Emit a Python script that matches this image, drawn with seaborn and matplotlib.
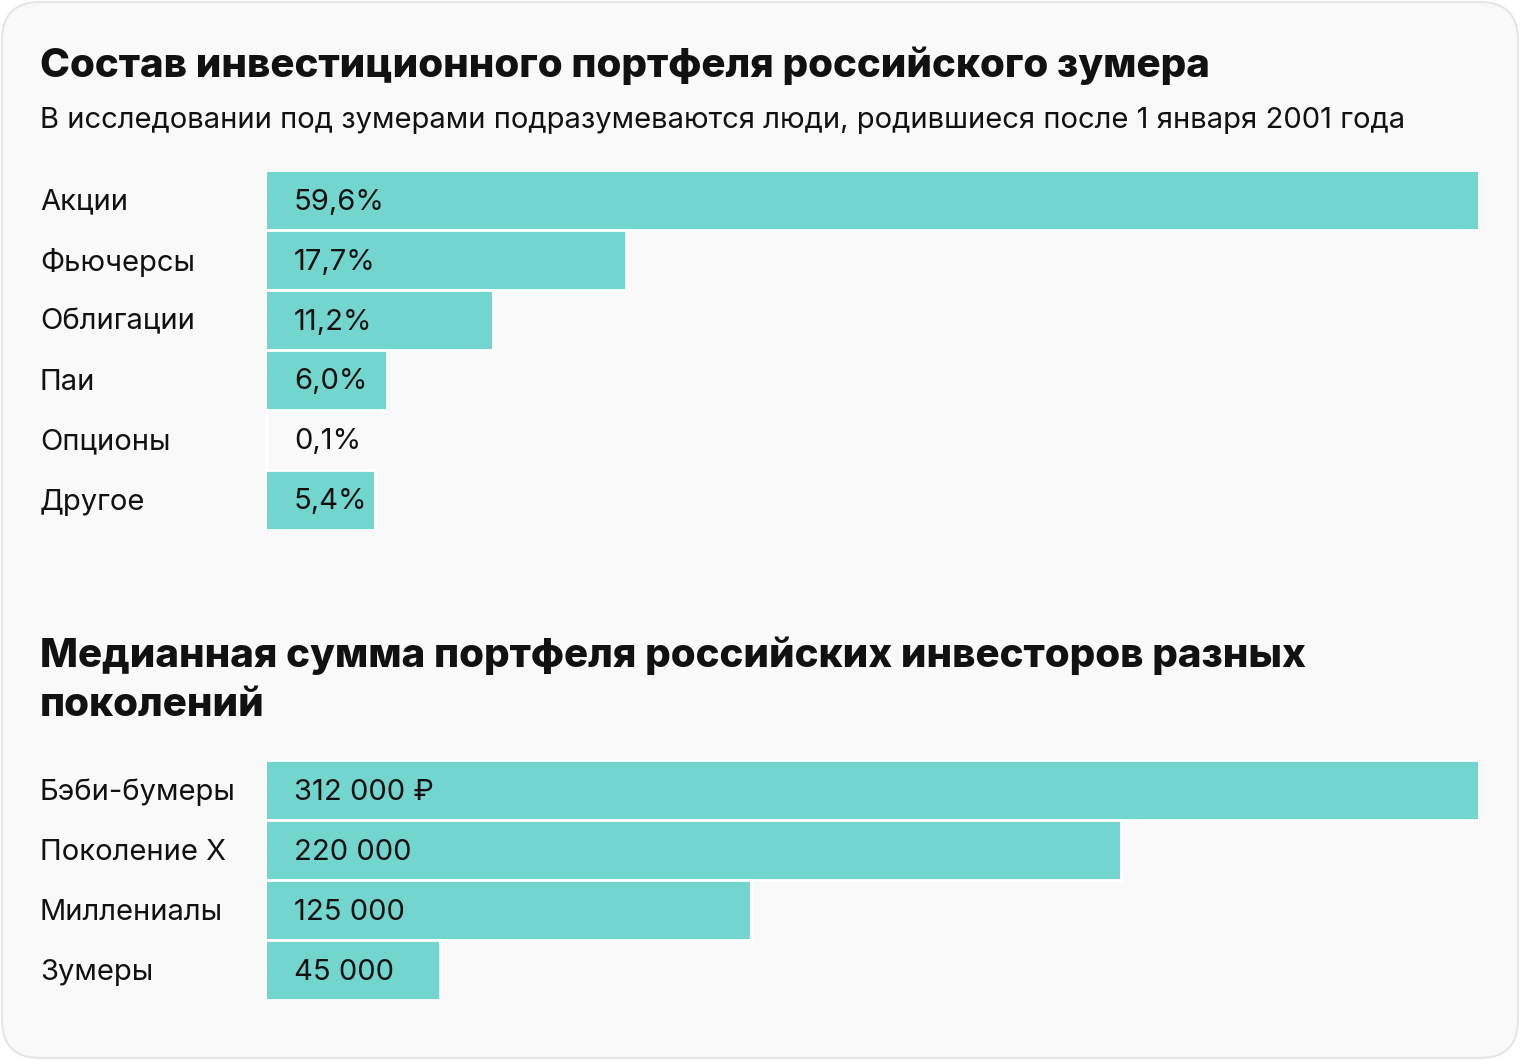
import matplotlib.pyplot as plt
import seaborn as sns
import pandas as pd
from matplotlib.patches import FancyBboxPatch

plt.switch_backend('Agg')
sns.set_theme(style="white")
plt.rcParams['font.family'] = ['Inter', 'DejaVu Sans']

# Data
assets = ['Акции', 'Фьючерсы', 'Облигации', 'Паи', 'Опционы', 'Другое']
asset_share = [59.6, 17.7, 11.2, 6.0, 0.1, 5.4]
asset_labels = ['59,6%', '17,7%', '11,2%', '6,0%', '0,1%', '5,4%']

generations = ['Бэби-бумеры', 'Поколение X', 'Миллениалы', 'Зумеры']
median_sum = [312000, 220000, 125000, 45000]
sum_labels = ['312 000 ₽', '220 000', '125 000', '45 000']

W, H = 1520, 1060
BAR = '#72d6cf'
BG = '#f9f9f9'

fig = plt.figure(figsize=(W / 100, H / 100), dpi=100)
fig.patch.set_facecolor('white')
fig.patches.append(FancyBboxPatch((2 / W, 2 / H), (W - 4) / W, (H - 4) / H,
                                  boxstyle="round,pad=0,rounding_size=0.025",
                                  transform=fig.transFigure, facecolor=BG,
                                  edgecolor='#e6e6e6', linewidth=1.5,
                                  mutation_aspect=W / H, zorder=-10))


def px_axes(x0, y0, x1, y1):
    # pixel box (top-left origin) -> figure axes
    return fig.add_axes([x0 / W, 1 - y1 / H, (x1 - x0) / W, (y1 - y0) / H])


def bar_panel(ax, cats, vals, labels):
    df = pd.DataFrame({'cat': cats, 'val': vals})
    sns.barplot(data=df, y='cat', x='val', orient='h', color=BAR, width=1.0,
                saturation=1, edgecolor='white', linewidth=2, ax=ax)
    ax.set_xlim(0, max(vals))
    ax.set_ylim(len(cats) - 0.5, -0.5)
    ax.set_facecolor('none')
    ax.axis('off')
    for i, (c, lab) in enumerate(zip(cats, labels)):
        ax.annotate(lab, xy=(0, i), xycoords=('axes fraction', 'data'),
                    xytext=(29, -2), textcoords='offset pixels',
                    va='center', ha='left', fontsize=21, color='#111111')
        ax.annotate(c, xy=(0, i), xycoords=('axes fraction', 'data'),
                    xytext=(-225, -2), textcoords='offset pixels',
                    va='center', ha='left', fontsize=21, color='#111111',
                    annotation_clip=False)


fig.text(40 / W, 1 - 66 / H, 'Состав инвестиционного портфеля российского зумера',
         fontsize=29, fontweight='heavy', va='center', ha='left', color='#111111')
fig.text(40 / W, 1 - 121 / H,
         'В исследовании под зумерами подразумеваются люди, родившиеся после 1 января 2001 года',
         fontsize=21, va='center', ha='left', color='#111111')

ax1 = px_axes(265, 170, 1479, 530)
bar_panel(ax1, assets, asset_share, asset_labels)

fig.text(40 / W, 1 - 656 / H, 'Медианная сумма портфеля российских инвесторов разных',
         fontsize=29, fontweight='heavy', va='center', ha='left', color='#111111')
fig.text(40 / W, 1 - 705 / H, 'поколений',
         fontsize=29, fontweight='heavy', va='center', ha='left', color='#111111')

ax2 = px_axes(265, 760, 1479, 1000)
bar_panel(ax2, generations, median_sum, sum_labels)

plt.savefig('out.png', dpi=100, facecolor='white')
plt.close()
